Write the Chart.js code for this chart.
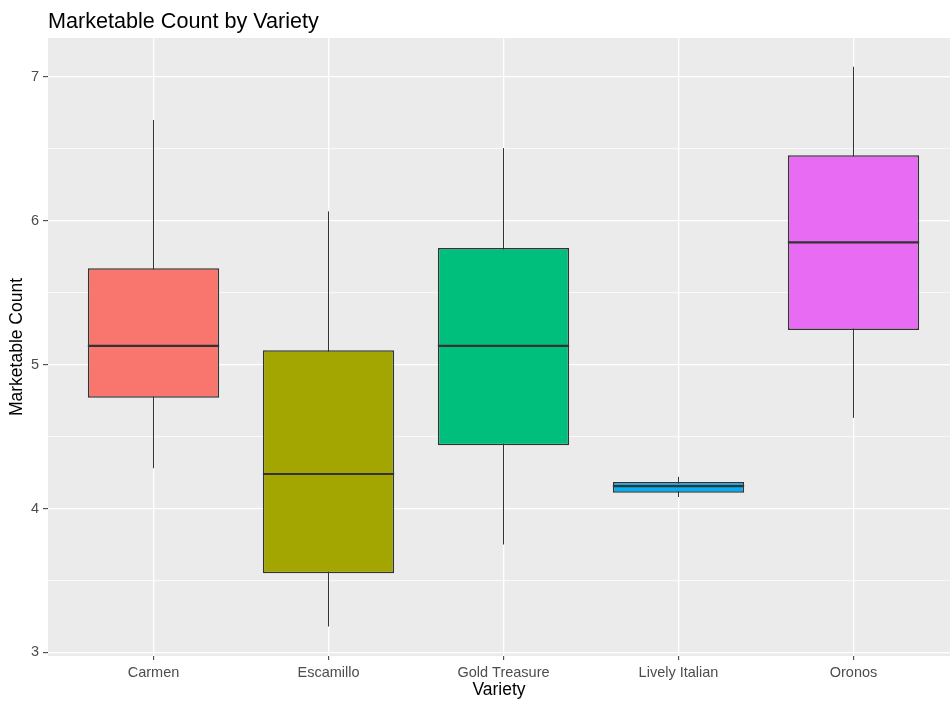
<!DOCTYPE html>
<html>
<head>
<meta charset="utf-8">
<title>Marketable Count by Variety</title>
<script src="https://cdn.jsdelivr.net/npm/chart.js@4/dist/chart.umd.min.js"></script>
<style>
  html, body { margin: 0; padding: 0; background: #ffffff; }
  #wrap { width: 950px; height: 706px; }
</style>
</head>
<body>
<div id="wrap"><canvas id="chart" width="950" height="706"></canvas></div>
<script>
// Box-plot summary per variety (whisker ends, hinges, median)
const varieties   = ['Carmen', 'Escamillo', 'Gold Treasure', 'Lively Italian', 'Oronos'];
const whiskerLow  = [4.28, 3.18, 3.75, 4.08, 4.63];
const lowerHinge  = [4.77, 3.55, 4.44, 4.11, 5.24];
const medians     = [5.13, 4.24, 5.13, 4.155, 5.85];
const upperHinge  = [5.67, 5.10, 5.81, 4.185, 6.455];
const whiskerHigh = [6.70, 6.065, 6.505, 4.22, 7.07];
const fillColors  = ['#F8766D', '#A3A500', '#00BF7D', '#00B0F6', '#E76BF3'];

// y-axis breaks: labelled majors and unlabelled minors
const majorBreaks = [3, 4, 5, 6, 7];
const minorBreaks = [3.5, 4.5, 5.5, 6.5];

const positions = varieties.map((_, i) => i + 1);
const BOX_WIDTH = 0.75;
const INK = '#333333';

// whiskers: one vertical segment per variety, separated by gaps
const whiskerPoints = [];
positions.forEach((x, i) => {
  whiskerPoints.push({ x: x, y: whiskerLow[i] }, { x: x, y: whiskerHigh[i] }, { x: x, y: null });
});

// median strokes across each box
const medianPoints = [];
positions.forEach((x, i) => {
  medianPoints.push({ x: x - BOX_WIDTH / 2, y: medians[i] }, { x: x + BOX_WIDTH / 2, y: medians[i] }, { x: x, y: null });
});

// grey panel behind the grid
const panelBackground = {
  id: 'panelBackground',
  beforeDraw(chart) {
    const { ctx, chartArea: a } = chart;
    ctx.save();
    ctx.fillStyle = '#EBEBEB';
    ctx.fillRect(a.left, a.top, a.right - a.left, a.bottom - a.top);
    ctx.restore();
  }
};

// plot title aligned with the panel's left edge
const plotTitle = {
  id: 'plotTitle',
  afterDraw(chart) {
    const { ctx, chartArea: a } = chart;
    ctx.save();
    ctx.font = '21.6px "Liberation Sans", Arial, sans-serif';
    ctx.fillStyle = '#000000';
    ctx.textAlign = 'left';
    ctx.textBaseline = 'alphabetic';
    ctx.fillText('Marketable Count by Variety', a.left, 28);
    ctx.restore();
  }
};

Chart.defaults.font.family = '"Liberation Sans", Arial, sans-serif';

new Chart(document.getElementById('chart'), {
  type: 'bar',
  data: {
    datasets: [
      {
        type: 'line',
        label: 'median',
        data: medianPoints,
        order: 0,
        borderColor: INK,
        borderWidth: 2.2,
        pointRadius: 0,
        spanGaps: false,
        tension: 0,
        borderCapStyle: 'butt'
      },
      {
        type: 'bar',
        label: 'box',
        data: positions.map((x, i) => ({ x: x, y: [lowerHinge[i], upperHinge[i]] })),
        order: 1,
        backgroundColor: fillColors,
        borderColor: INK,
        borderWidth: 1.5,
        borderSkipped: false,
        barPercentage: BOX_WIDTH,
        categoryPercentage: 1.0
      },
      {
        type: 'line',
        label: 'whisker',
        data: whiskerPoints,
        order: 2,
        borderColor: INK,
        borderWidth: 1,
        pointRadius: 0,
        spanGaps: false,
        tension: 0
      }
    ]
  },
  options: {
    responsive: false,
    animation: false,
    layout: { padding: { top: 38, left: 0, right: 0, bottom: 0 } },
    plugins: {
      legend: { display: false },
      tooltip: { enabled: false },
      title: { display: false }
    },
    scales: {
      x: {
        type: 'linear',
        min: 0.39714,
        max: 5.55143,
        offset: false,
        afterBuildTicks(axis) {
          axis.ticks = positions.map(v => ({ value: v }));
        },
        afterFit(axis) { axis.height = 50; },
        grid: {
          offset: false,
          color: '#FFFFFF',
          lineWidth: 1.3,
          drawTicks: true,
          tickLength: 4,
          tickColor: INK,
          tickWidth: 1
        },
        border: { display: false },
        ticks: {
          autoSkip: false,
          maxRotation: 0,
          padding: 4,
          color: '#4D4D4D',
          font: { size: 14.5 },
          callback: (value) => varieties[Math.round(value) - 1] || ''
        },
        title: {
          display: true,
          text: 'Variety',
          color: '#000000',
          font: { size: 17.5 },
          padding: { top: 0, bottom: 5 }
        }
      },
      y: {
        type: 'linear',
        min: 2.975,
        max: 7.27,
        afterBuildTicks(axis) {
          axis.ticks = majorBreaks.concat(minorBreaks).sort((a, b) => a - b).map(v => ({ value: v }));
        },
        afterFit(axis) { axis.width = 48; },
        grid: {
          color: '#FFFFFF',
          lineWidth: (c) => (majorBreaks.includes(c.tick.value) ? 1.3 : 0.7),
          drawTicks: true,
          tickLength: 5,
          tickColor: (c) => (majorBreaks.includes(c.tick.value) ? INK : 'rgba(0,0,0,0)'),
          tickWidth: 1
        },
        border: { display: false },
        ticks: {
          autoSkip: false,
          padding: 4,
          color: '#4D4D4D',
          font: { size: 14.5 },
          callback: (value) => (majorBreaks.includes(value) ? String(value) : '')
        },
        title: {
          display: true,
          text: 'Marketable Count',
          color: '#000000',
          font: { size: 17.5 },
          padding: { top: 7, bottom: 0 }
        }
      }
    }
  },
  plugins: [panelBackground, plotTitle]
});
</script>
</body>
</html>
